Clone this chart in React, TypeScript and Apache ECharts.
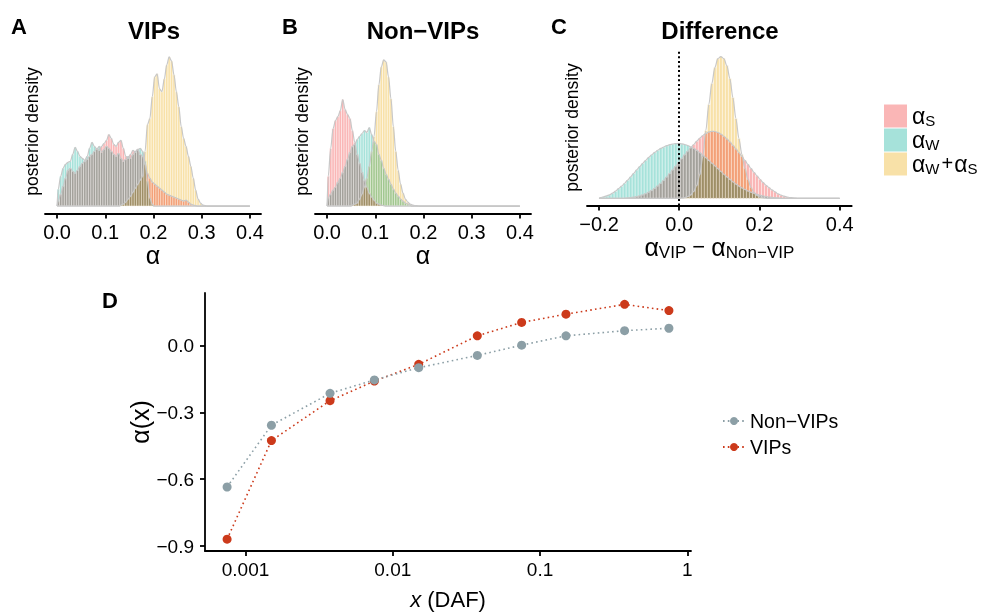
import { useEffect, useRef } from "react";
import * as echarts from "echarts";

const FONT = "'Liberation Sans', Arial, Helvetica, sans-serif";

// ---------- Panels A & B: posterior histograms (bin width 0.005) ----------
const AB_BIN = 0.005;
const AB_DENS_RANGE = [0, 0.4];
const AB_X_TICKS = [0, 0.1, 0.2, 0.3, 0.4];

// Panel A (VIPs)
const A_S_START = 0;
const A_S = [
  5, 12, 20, 28, 36, 38, 35, 33, 36, 40,
  43, 45, 47, 50, 52, 55, 58, 56, 60, 63,
  66, 72, 68, 62, 60, 64, 66, 58, 50, 48,
  52, 56, 54, 57, 52, 50, 42, 33, 28, 24,
  22, 20, 18, 16, 14, 12, 11, 10, 9, 8,
  7, 6, 5, 6, 4, 2, 1, 0.5,
];
const A_W_START = 0;
const A_W = [
  17, 30, 38, 42, 44, 45, 52, 59, 55, 50,
  48, 46, 50, 58, 64, 60, 57, 60, 54, 57,
  60, 58, 55, 52, 50, 53, 48, 45, 47, 50,
  48, 52, 55, 57, 58, 55, 45, 25, 8, 2,
];
const A_WS_START = 0.13;
const A_WS = [
  1, 2, 4, 7, 10, 14, 18, 22, 26, 30,
  55, 82, 88, 110, 130, 133, 118, 115, 128, 142,
  150, 146, 132, 115, 100, 80, 68, 60, 50, 40,
  28, 16, 7, 3, 1, 0.5,
];

// Panel B (Non-VIPs)
const B_S_START = 0;
const B_S = [
  30, 58, 78, 86, 90, 96, 107, 97, 92, 88,
  76, 64, 52, 43, 34, 26, 19, 13, 9, 6,
  3, 2, 1, 0.5,
];
const B_W_START = 0;
const B_W = [
  8, 12, 16, 19, 24, 28, 34, 40, 47, 54,
  60, 62, 67, 70, 73, 76, 74, 79, 72, 65,
  62, 52, 46, 38, 32, 27, 22, 17, 13, 10,
  7, 5, 3, 2, 1,
];
const B_WS_START = 0.05;
const B_WS = [
  1, 2, 3, 7, 12, 19, 28, 40, 55, 70,
  95, 122, 140, 147, 145, 130, 108, 80, 55, 36,
  22, 13, 7, 4, 2, 1, 0.5, 0.2,
];

// ---------- Panel C: difference (bin width 0.0075) ----------
const C_BIN = 0.0075;
const C_DENS_RANGE = [-0.2, 0.4];
const C_X_TICKS = [-0.2, 0, 0.2, 0.4];
const C_W_START = -0.2;
const C_W = [
  0.8, 1.6, 2.5, 3.6, 5.2, 7.2, 9.7, 12.2, 15.2, 18.3,
  21.6, 25, 28.5, 31.8, 35, 38, 41, 43.7, 46, 48.2,
  50, 51.5, 52.8, 53.8, 54.5, 54.9, 55, 54.6, 54, 53,
  51.6, 50, 48, 45.8, 43.4, 40.8, 38, 35.4, 32.6, 29.8,
  27, 24.2, 21.6, 19, 16.6, 14.4, 12.4, 10.6, 9, 7.5,
  6.2, 5, 4, 3.2, 2.5, 1.9, 1.4, 1, 0.7, 0.5,
  0.3,
];
const C_S_START = -0.14;
const C_S = [
  0.3, 0.5, 0.8, 1.2, 1.8, 2.6, 3.6, 4.8, 6.3, 8,
  10.1, 12.5, 15.2, 18.2, 21.5, 25, 28.7, 32.4, 36.2, 40,
  43.8, 47.4, 50.8, 54, 57.4, 60.4, 63, 65, 66.6, 67.2,
  67, 66, 64.4, 62.2, 59.6, 56.6, 53.2, 49.6, 45.9, 42,
  38, 34, 30, 26.2, 22.6, 19.2, 16, 13.2, 10.7, 8.5,
  6.6, 4.5, 3.2, 2.2, 1.4, 0.9, 0.5, 0.3,
];
const C_WS_START = 0.0025;
const C_WS = [
  0.3, 0.8, 1.8, 3.5, 7, 13, 24, 42, 68, 94,
  115, 131, 140, 142, 140, 133, 120, 101, 80, 60,
  44, 30, 19, 11, 6, 3, 1.4, 0.6, 0.2,
];

const GROUPS = ["αS", "αW", "αW+αS"];
const GROUP_COLORS = ["#FAB6B6", "#A6E2DA", "#F8E1A8"];

// ---------- Panel D ----------
const DAF = [0.00075, 0.0015, 0.00375, 0.0075, 0.015, 0.0375, 0.075, 0.15, 0.375, 0.75];
const ALPHA_NONVIP = [-0.635, -0.358, -0.215, -0.155, -0.1, -0.045, 0.001, 0.043, 0.066, 0.077];
const ALPHA_VIP = [-0.869, -0.427, -0.248, -0.16, -0.085, 0.043, 0.103, 0.14, 0.184, 0.156];
const D_X_TICKS = [0.001, 0.01, 0.1, 1];
const D_X_TICK_LABELS = ["0.001", "0.01", "0.1", "1"];
const D_Y_TICKS = [-0.9, -0.6, -0.3, 0];
const D_NAMES = ["Non−VIPs", "VIPs"];
const D_COLORS = ["#8C9FA6", "#CC3A1B"];

const fmt1 = (v: number) => (v < -1e-9 ? "−" : "") + Math.abs(v).toFixed(1);

function hexToRgb(h: string) {
  const n = parseInt(h.slice(1), 16);
  return [(n >> 16) & 255, (n >> 8) & 255, n & 255];
}

function histSeries(name: string, color: string, start: number, bin: number, values: number[], idx: number) {
  return {
    type: "custom",
    name,
    xAxisIndex: idx,
    yAxisIndex: idx,
    z: 2,
    silent: true,
    data: values.map((v, i) => [start + (i + 0.5) * bin, v, bin]),
    encode: { x: 0, y: 1 },
    renderItem: (_p: any, api: any) => {
      const x = api.value(0);
      const h = api.value(1);
      const w = api.value(2);
      const p0 = api.coord([x - w / 2, h]);
      const p1 = api.coord([x + w / 2, 0]);
      return {
        type: "rect",
        shape: { x: p0[0], y: p0[1], width: p1[0] - p0[0], height: p1[1] - p0[1] },
        style: { fill: color, stroke: "#ffffff", lineWidth: 0.6 },
      };
    },
  };
}

function densSeries(start: number, bin: number, values: number[], range: number[], idx: number, extra: any = {}) {
  const pts: number[][] = [];
  if (range[0] < start - 1e-9) pts.push([range[0], 0]);
  pts.push([start, 0]);
  values.forEach((v, i) => pts.push([start + (i + 0.5) * bin, v]));
  const end = start + values.length * bin;
  pts.push([end, 0]);
  if (end < range[1]) pts.push([range[1], 0]);
  return {
    type: "line",
    xAxisIndex: idx,
    yAxisIndex: idx,
    z: 3,
    silent: true,
    data: pts,
    symbol: "none",
    smooth: 0.3,
    smoothMonotone: "x",
    lineStyle: { color: "#C8C8C8", width: 1.2 },
    ...extra,
  };
}

const axisLineStyle = { color: "#000", width: 1.8 };

function histXAxis(idx: number, min: number, max: number, ticks: number[], name: any, gap: number, rich?: any) {
  return {
    gridIndex: idx,
    type: "value",
    min,
    max,
    axisLine: { show: true, onZero: false, lineStyle: axisLineStyle },
    axisTick: { show: true, customValues: ticks, length: 5, lineStyle: axisLineStyle },
    axisLabel: { customValues: ticks, formatter: fmt1, fontSize: 20, color: "#000", margin: 8, fontFamily: FONT },
    splitLine: { show: false },
    name,
    nameLocation: "middle",
    nameGap: gap,
    nameTextStyle: { fontSize: 25, color: "#000", fontFamily: FONT, rich },
  };
}

function histYAxis(idx: number, min: number, max: number, gap: number) {
  return {
    gridIndex: idx,
    type: "value",
    min,
    max,
    axisLine: { show: false },
    axisTick: { show: false },
    axisLabel: { show: false },
    splitLine: { show: false },
    name: "posterior density",
    nameLocation: "middle",
    nameRotate: 90,
    nameGap: gap,
    nameTextStyle: { fontSize: 17.5, color: "#000", fontFamily: FONT },
  };
}

export default function App() {
  const ref = useRef<HTMLDivElement>(null);
  useEffect(() => {
    if (!ref.current) return;
    const root = ref.current;
    const chart = echarts.init(root, null, { renderer: "svg" });

    const aHist = [
      [A_S_START, A_S],
      [A_W_START, A_W],
      [A_WS_START, A_WS],
    ] as [number, number[]][];
    const bHist = [
      [B_S_START, B_S],
      [B_W_START, B_W],
      [B_WS_START, B_WS],
    ] as [number, number[]][];
    const cHist = [
      [C_S_START, C_S],
      [C_W_START, C_W],
      [C_WS_START, C_WS],
    ] as [number, number[]][];

    const series: any[] = [];
    const panels: [[number, number[]][], number, number[], number][] = [
      [aHist, AB_BIN, AB_DENS_RANGE, 0],
      [bHist, AB_BIN, AB_DENS_RANGE, 1],
      [cHist, C_BIN, C_DENS_RANGE, 2],
    ];
    panels.forEach(([hists, bin, range, idx]) => {
      hists.forEach(([start, vals], g) => series.push(histSeries(GROUPS[g], GROUP_COLORS[g], start, bin, vals, idx)));
      hists.forEach(([start, vals], g) => {
        const extra =
          idx === 2 && g === 0
            ? {
                markLine: {
                  silent: true,
                  symbol: ["none", "none"],
                  label: { show: false },
                  lineStyle: { color: "#000", width: 2, type: [2, 2.6] },
                  data: [{ xAxis: 0 }],
                },
              }
            : {};
        series.push(densSeries(start, bin, vals, range, idx, extra));
      });
    });

    // Panel D (VIPs drawn first so Non-VIPs sits on top)
    [1, 0].forEach((k) => {
      const vals = k === 1 ? ALPHA_VIP : ALPHA_NONVIP;
      series.push({
        type: "line",
        name: D_NAMES[k],
        xAxisIndex: 3,
        yAxisIndex: 3,
        z: 4,
        data: DAF.map((d, i) => [Math.log10(d), vals[i]]),
        symbol: "circle",
        symbolSize: 9,
        itemStyle: { color: D_COLORS[k] },
        lineStyle: { color: D_COLORS[k], width: 1.6, type: [1.6, 3.2] },
      });
    });

    const dxTicks = D_X_TICKS.map((t) => Math.log10(t));
    const legendRich = {
      a: { fontSize: 23, verticalAlign: "top", fontFamily: FONT, color: "#000" },
      m: { fontSize: 20, verticalAlign: "top", padding: [1, 1, 0, 2], fontFamily: FONT, color: "#000" },
      s: { fontSize: 15, padding: [9, 0, 0, 0], verticalAlign: "bottom", fontFamily: FONT, color: "#000" },
    };
    const legendLabel: Record<string, string> = {
      "αS": "{a|α}{s|S}",
      "αW": "{a|α}{s|W}",
      "αW+αS": "{a|α}{s|W}{m|+}{a|α}{s|S}",
    };

    chart.setOption({
      animation: false,
      textStyle: { fontFamily: FONT },
      grid: [
        { left: 45, top: 49.5, width: 216, height: 164 },
        { left: 315, top: 49.5, width: 216, height: 164 },
        { left: 587, top: 49.5, width: 264.7, height: 156 },
        { left: 205, top: 293, width: 486, height: 258 },
      ],
      xAxis: [
        histXAxis(0, -0.025, 0.423, AB_X_TICKS, "α", 26),
        histXAxis(1, -0.025, 0.423, AB_X_TICKS, "α", 26),
        histXAxis(2, -0.23, 0.43, C_X_TICKS, "{a|α}{s|VIP}{m| − }{a|α}{s|Non−VIP}", 29, {
          a: { fontSize: 25, verticalAlign: "top", fontFamily: FONT, color: "#000" },
          m: { fontSize: 22, verticalAlign: "top", padding: [1, 0, 0, 0], fontFamily: FONT, color: "#000" },
          s: { fontSize: 17, padding: [9, 0, 0, 0], verticalAlign: "bottom", fontFamily: FONT, color: "#000" },
        }),
        {
          gridIndex: 3,
          type: "value",
          min: -3.275,
          max: 0.025,
          axisLine: { show: true, onZero: false, lineStyle: axisLineStyle },
          axisTick: { show: true, customValues: dxTicks, length: 5, lineStyle: axisLineStyle },
          axisLabel: {
            customValues: dxTicks,
            formatter: (v: number) => {
              const i = dxTicks.findIndex((t) => Math.abs(t - v) < 1e-6);
              return i >= 0 ? D_X_TICK_LABELS[i] : "";
            },
            fontSize: 19,
            color: "#000",
            margin: 9,
            fontFamily: FONT,
          },
          splitLine: { show: false },
          name: "{i|x} (DAF)",
          nameLocation: "middle",
          nameGap: 37,
          nameTextStyle: {
            fontSize: 22,
            color: "#000",
            fontFamily: FONT,
            rich: { i: { fontSize: 22, fontStyle: "italic", fontFamily: FONT, color: "#000" } },
          },
        },
      ],
      yAxis: [
        histYAxis(0, -7.5, 157.5, 4),
        histYAxis(1, -7.5, 157.5, 4),
        histYAxis(2, -7.1, 149.1, 6),
        {
          gridIndex: 3,
          type: "value",
          min: -0.922,
          max: 0.235,
          axisLine: { show: true, onZero: false, lineStyle: axisLineStyle },
          axisTick: { show: true, customValues: D_Y_TICKS, length: 5, lineStyle: axisLineStyle },
          axisLabel: { customValues: D_Y_TICKS, formatter: fmt1, fontSize: 19, color: "#000", margin: 11, fontFamily: FONT },
          splitLine: { show: false },
          name: "α(x)",
          nameLocation: "middle",
          nameRotate: 90,
          nameGap: 53,
          nameTextStyle: { fontSize: 25, color: "#000", fontFamily: FONT },
        },
      ],
      legend: [
        {
          left: 884,
          top: 104,
          padding: 0,
          orient: "vertical",
          itemWidth: 23,
          itemHeight: 23,
          itemGap: 0,
          selectedMode: false,
          data: GROUPS.map((g, i) => ({ name: g, icon: "rect", itemStyle: { color: GROUP_COLORS[i], borderWidth: 0 } })),
          formatter: (name: string) => legendLabel[name] || name,
          textStyle: { rich: legendRich, fontFamily: FONT },
        },
        {
          left: 722,
          top: 411,
          padding: 0,
          orient: "vertical",
          itemWidth: 22,
          itemHeight: 10,
          itemGap: 6,
          selectedMode: false,
          data: D_NAMES,
          textStyle: { fontSize: 19.5, color: "#000", fontFamily: FONT },
        },
      ],
      graphic: [
        { type: "text", x: 11, y: 26, style: { text: "A", fontSize: 22, fontWeight: "bold", fill: "#000", fontFamily: FONT, align: "left", verticalAlign: "middle" } },
        { type: "text", x: 282, y: 26, style: { text: "B", fontSize: 22, fontWeight: "bold", fill: "#000", fontFamily: FONT, align: "left", verticalAlign: "middle" } },
        { type: "text", x: 551, y: 26, style: { text: "C", fontSize: 22, fontWeight: "bold", fill: "#000", fontFamily: FONT, align: "left", verticalAlign: "middle" } },
        { type: "text", x: 102, y: 300, style: { text: "D", fontSize: 22, fontWeight: "bold", fill: "#000", fontFamily: FONT, align: "left", verticalAlign: "middle" } },
        { type: "text", x: 154, y: 30.5, style: { text: "VIPs", fontSize: 24, fontWeight: "bold", fill: "#000", fontFamily: FONT, align: "center", verticalAlign: "middle" } },
        { type: "text", x: 423, y: 30.5, style: { text: "Non−VIPs", fontSize: 24, fontWeight: "bold", fill: "#000", fontFamily: FONT, align: "center", verticalAlign: "middle" } },
        { type: "text", x: 720, y: 30.5, style: { text: "Difference", fontSize: 24, fontWeight: "bold", fill: "#000", fontFamily: FONT, align: "center", verticalAlign: "middle" } },
      ],
      series,
    });

    // Overlapping posterior histograms are composited multiplicatively (as in the reference).
    const fills = new Set<string>();
    GROUP_COLORS.forEach((c) => {
      const [r, g, b] = hexToRgb(c);
      fills.add(c.toLowerCase());
      fills.add(`rgb(${r},${g},${b})`);
      fills.add(`rgb(${r}, ${g}, ${b})`);
    });
    const applyBlend = () => {
      root.querySelectorAll("path, rect").forEach((el) => {
        const f = (el.getAttribute("fill") || "").toLowerCase();
        if (fills.has(f)) (el as SVGElement).style.mixBlendMode = "multiply";
      });
    };
    applyBlend();
    chart.on("finished", applyBlend);
    return () => chart.dispose();
  }, []);
  return <div ref={ref} style={{ position: "absolute", left: 0, top: 0, width: 982, height: 614 }} />;
}
